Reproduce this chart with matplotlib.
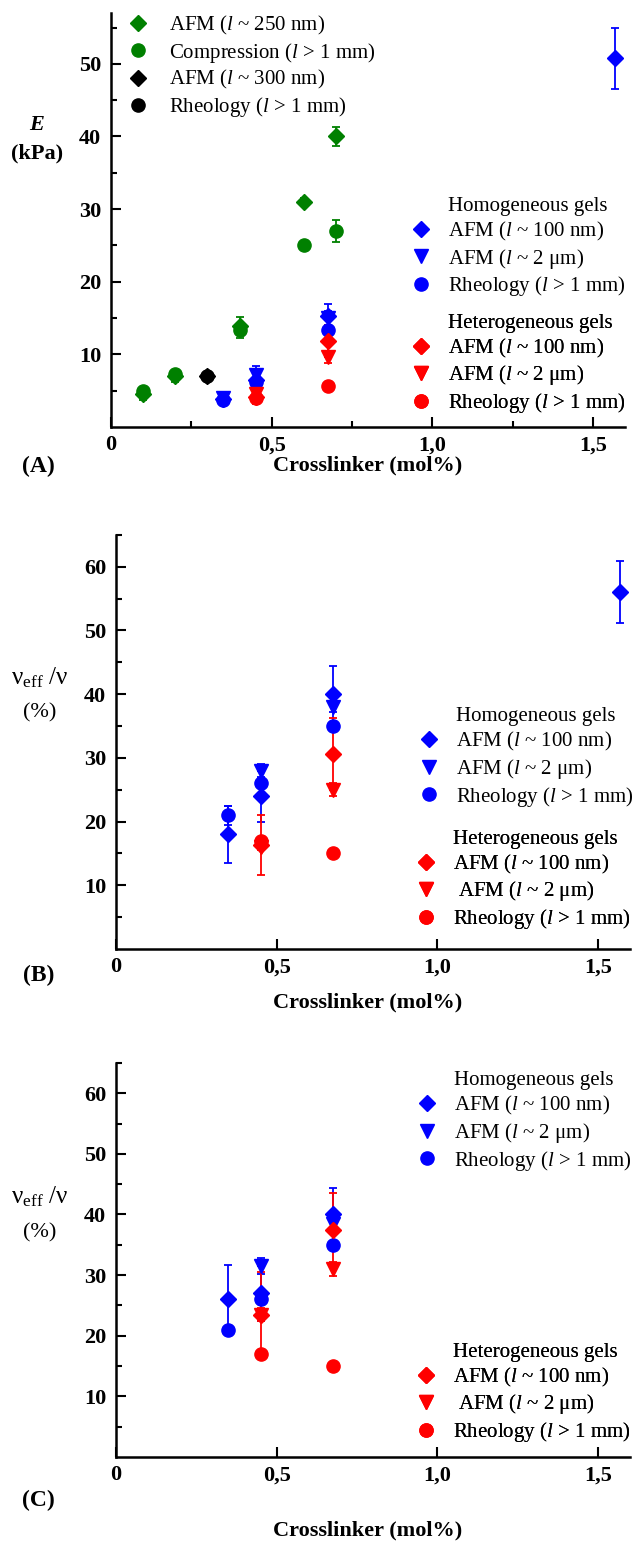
import matplotlib
matplotlib.use("Agg")
import matplotlib.pyplot as plt
from matplotlib.lines import Line2D

plt.rcParams['font.family'] = ['Liberation Serif', 'DejaVu Serif']
plt.rcParams['mathtext.fontset'] = 'custom'
plt.rcParams['mathtext.rm'] = 'Liberation Serif'
plt.rcParams['mathtext.it'] = 'Liberation Serif:italic'
plt.rcParams['mathtext.bf'] = 'Liberation Serif:bold'

BLUE = '#0000ff'
RED = '#ff0000'
GREEN = '#008000'

# ---------------- data (A): Young's modulus E (kPa) ----------------
a_afm250_x = [0.1, 0.2, 0.4, 0.6, 0.7]
a_afm250_y = [4.5, 7.0, 13.9, 31.0, 40.0]
a_afm250_err = [0.8, 0.8, 1.2, 0.6, 1.3]
a_comp_x = [0.1, 0.2, 0.4, 0.6, 0.7]
a_comp_y = [5.0, 7.3, 13.3, 25.0, 27.0]
a_comp_err = [0.5, 0.5, 1.0, 0.5, 1.5]
a_afm300_x = [0.3]
a_afm300_y = [7.0]
a_rheoblk_x = [0.3]
a_rheoblk_y = [7.0]

a_hom_afm100_x = [0.35, 0.45, 0.675, 1.57]
a_hom_afm100_y = [3.9, 6.5, 15.3, 50.8]
a_hom_afm100_err = [0.5, 1.0, 1.7, 4.2]
a_hom_afm2_x = [0.35, 0.45, 0.675]
a_hom_afm2_y = [4.0, 7.2, 15.0]
a_hom_afm2_err = [0.5, 1.2, 1.0]
a_hom_rheo_x = [0.35, 0.45, 0.675]
a_hom_rheo_y = [3.7, 6.2, 13.3]
a_het_afm100_x = [0.45, 0.675]
a_het_afm100_y = [4.2, 11.8]
a_het_afm100_err = [1.0, 2.2]
a_het_afm2_x = [0.45, 0.675]
a_het_afm2_y = [4.5, 9.6]
a_het_afm2_err = [0.8, 0.8]
a_het_rheo_x = [0.45, 0.675]
a_het_rheo_y = [4.0, 5.7]

# ---------------- data (B): nu_eff/nu (%) ----------------
b_hom_afm100_x = [0.35, 0.45, 0.675, 1.57]
b_hom_afm100_y = [18.0, 24.0, 40.0, 56.0]
b_hom_afm100_err = [4.5, 4.0, 4.4, 4.85]
b_hom_afm2_x = [0.45, 0.675]
b_hom_afm2_y = [28.0, 38.0]
b_hom_afm2_err = [1.0, 0.8]
b_hom_rheo_x = [0.35, 0.45, 0.675]
b_hom_rheo_y = [21.0, 26.0, 35.0]
b_hom_rheo_err = [1.5, 0, 0]
b_het_afm100_x = [0.45, 0.675]
b_het_afm100_y = [16.3, 30.6]
b_het_afm100_err = [4.7, 5.7]
b_het_afm2_x = [0.45, 0.675]
b_het_afm2_y = [16.0, 25.0]
b_het_afm2_err = [0.5, 1.0]
b_het_rheo_x = [0.45, 0.675]
b_het_rheo_y = [17.0, 15.0]

# ---------------- data (C): nu_eff/nu (%) ----------------
c_hom_afm100_x = [0.35, 0.45, 0.675]
c_hom_afm100_y = [26.0, 27.0, 40.0]
c_hom_afm100_err = [5.7, 4.5, 4.4]
c_hom_afm2_x = [0.45, 0.675]
c_hom_afm2_y = [31.5, 38.5]
c_hom_afm2_err = [1.3, 1.0]
c_hom_rheo_x = [0.35, 0.45, 0.675]
c_hom_rheo_y = [21.0, 26.0, 35.0]
c_het_afm100_x = [0.45, 0.675]
c_het_afm100_y = [23.5, 37.5]
c_het_afm100_err = [7.0, 6.0]
c_het_afm2_x = [0.45, 0.675]
c_het_afm2_y = [23.5, 31.0]
c_het_afm2_err = [1.0, 1.2]
c_het_rheo_x = [0.45, 0.675]
c_het_rheo_y = [17.0, 15.0]

x_ticks = [0, 0.5, 1.0, 1.5]
x_ticklabels = ['0', '0,5', '1,0', '1,5']

MS = {'D': 8, 'v': 10, 'o': 9.5}
FS = 16       # ticks, axis labels
FS_LEG = 15   # legend text


def pts(ax, x, y, err, marker, color):
    if err is None:
        err = [0] * len(y)
    ax.errorbar(x, y, yerr=err, fmt=marker, color=color, ms=MS[marker],
                mec=color, mfc=color, capsize=3, elinewidth=1.3, capthick=1.3)


def style(ax, ylim, yticks, xminor):
    ax.set_xlim(0, 1.6)
    ax.set_ylim(*ylim)
    for s in ['top', 'right']:
        ax.spines[s].set_visible(False)
    for s in ['left', 'bottom']:
        ax.spines[s].set_linewidth(1.8)
    ax.set_xticks(x_ticks)
    ax.set_xticklabels(x_ticklabels)
    ax.set_yticks(yticks)
    ax.set_yticks([t - 5 for t in yticks] + [yticks[-1] + 5], minor=True)
    if xminor:
        ax.set_xticks([0.25, 0.75, 1.25], minor=True)
    ax.tick_params(which='both', direction='in', width=1.5, labelsize=FS)
    ax.tick_params(axis='y', pad=7)
    ax.tick_params(axis='x', pad=6)
    ax.tick_params(which='major', length=7)
    ax.tick_params(which='minor', length=4)
    for lab in ax.get_xticklabels() + ax.get_yticklabels():
        lab.set_fontweight('bold')
    ax.set_xlabel('Crosslinker (mol%)', fontsize=FS, fontweight='bold')


def group_legend(ax, title, color, anchor, afm2_label):
    handles = [Line2D([], [], linestyle='none'),
               Line2D([], [], linestyle='none', marker='D', color=color, ms=MS['D']),
               Line2D([], [], linestyle='none', marker='v', color=color, ms=MS['v']),
               Line2D([], [], linestyle='none', marker='o', color=color, ms=MS['o'])]
    labels = [title, r'AFM ($l$ ~ 100 nm)', afm2_label, r'Rheology ($l$ > 1 mm)']
    leg = ax.legend(handles, labels, loc='upper left', bbox_to_anchor=anchor,
                    frameon=False, fontsize=FS_LEG, handlelength=1.0, handletextpad=0.8,
                    borderpad=0, borderaxespad=0, labelspacing=0.18)
    ax.add_artist(leg)


fig = plt.figure(figsize=(6.37, 15.49), dpi=100)
axA = fig.add_axes([0.1743, 0.7243, 0.807, 0.2673])
axB = fig.add_axes([0.1821, 0.3874, 0.807, 0.2673])
axC = fig.add_axes([0.1821, 0.0594, 0.807, 0.2544])

# ---- panel A ----
pts(axA, a_comp_x, a_comp_y, a_comp_err, 'o', GREEN)
pts(axA, a_afm250_x, a_afm250_y, a_afm250_err, 'D', GREEN)
pts(axA, a_rheoblk_x, a_rheoblk_y, None, 'o', 'black')
pts(axA, a_afm300_x, a_afm300_y, None, 'D', 'black')
pts(axA, a_hom_rheo_x, a_hom_rheo_y, None, 'o', BLUE)
pts(axA, a_hom_afm2_x, a_hom_afm2_y, a_hom_afm2_err, 'v', BLUE)
pts(axA, a_hom_afm100_x, a_hom_afm100_y, a_hom_afm100_err, 'D', BLUE)
pts(axA, a_het_rheo_x, a_het_rheo_y, None, 'o', RED)
pts(axA, a_het_afm2_x, a_het_afm2_y, a_het_afm2_err, 'v', RED)
pts(axA, a_het_afm100_x, a_het_afm100_y, a_het_afm100_err, 'D', RED)
style(axA, (0, 57), [10, 20, 30, 40, 50], True)
axA.xaxis.set_label_coords(0.5, -0.068)

top_handles = [Line2D([], [], linestyle='none', marker='D', color=GREEN, ms=MS['D']),
               Line2D([], [], linestyle='none', marker='o', color=GREEN, ms=MS['o']),
               Line2D([], [], linestyle='none', marker='D', color='black', ms=MS['D']),
               Line2D([], [], linestyle='none', marker='o', color='black', ms=MS['o'])]
top_labels = [r'AFM ($l$ ~ 250 nm)', r'Compression ($l$ > 1 mm)',
              r'AFM ($l$ ~ 300 nm)', r'Rheology ($l$ > 1 mm)']
leg = axA.legend(top_handles, top_labels, loc='upper left', bbox_to_anchor=(0.033, 0.998),
                 frameon=False, fontsize=FS_LEG, handlelength=1.0, handletextpad=0.95,
                 borderpad=0, borderaxespad=0, labelspacing=0.18)
axA.add_artist(leg)
group_legend(axA, 'Homogeneous gels', BLUE, (0.583, 0.557), r'AFM ($l$ ~ 2 μm)')
group_legend(axA, 'Heterogeneous gels', RED, (0.583, 0.275), r'AFM ($l$ ~ 2 μm)')

# ---- panel B ----
pts(axB, b_hom_rheo_x, b_hom_rheo_y, b_hom_rheo_err, 'o', BLUE)
pts(axB, b_hom_afm2_x, b_hom_afm2_y, b_hom_afm2_err, 'v', BLUE)
pts(axB, b_hom_afm100_x, b_hom_afm100_y, b_hom_afm100_err, 'D', BLUE)
pts(axB, b_het_rheo_x, b_het_rheo_y, None, 'o', RED)
pts(axB, b_het_afm2_x, b_het_afm2_y, b_het_afm2_err, 'v', RED)
pts(axB, b_het_afm100_x, b_het_afm100_y, b_het_afm100_err, 'D', RED)
style(axB, (0, 63.3), [10, 20, 30, 40, 50, 60], False)
axB.xaxis.set_label_coords(0.49, -0.106)
group_legend(axB, 'Homogeneous gels', BLUE, (0.588, 0.585), r'AFM ($l$ ~ 2 μm)')
group_legend(axB, 'Heterogeneous gels', RED, (0.583, 0.289), r' AFM ($l$ ~ 2 μm)')

# ---- panel C ----
pts(axC, c_hom_rheo_x, c_hom_rheo_y, None, 'o', BLUE)
pts(axC, c_hom_afm2_x, c_hom_afm2_y, c_hom_afm2_err, 'v', BLUE)
pts(axC, c_hom_afm100_x, c_hom_afm100_y, c_hom_afm100_err, 'D', BLUE)
pts(axC, c_het_rheo_x, c_het_rheo_y, None, 'o', RED)
pts(axC, c_het_afm2_x, c_het_afm2_y, c_het_afm2_err, 'v', RED)
pts(axC, c_het_afm100_x, c_het_afm100_y, c_het_afm100_err, 'D', RED)
style(axC, (0, 63.1), [10, 20, 30, 40, 50, 60], False)
axC.xaxis.set_label_coords(0.49, -0.16)
group_legend(axC, 'Homogeneous gels', BLUE, (0.585, 0.98), r'AFM ($l$ ~ 2 μm)')
group_legend(axC, 'Heterogeneous gels', RED, (0.583, 0.291), r' AFM ($l$ ~ 2 μm)')

# y labels and panel letters
fig.text(37 / 637, 1 - 125 / 1549, 'E', ha='center', va='center', fontsize=FS,
         fontweight='bold', fontstyle='italic')
fig.text(37 / 637, 1 - 153 / 1549, '(kPa)', ha='center', va='center', fontsize=FS,
         fontweight='bold')
for yc, yp in ((678, 713), (1197, 1233)):
    fig.text(40 / 637, 1 - yc / 1549, r'$\mathrm{\nu}_{\mathrm{eff}}$ /$\mathrm{\nu}$',
             ha='center', va='center', fontsize=FS + 2)
    fig.text(40 / 637, 1 - yp / 1549, '(%)', ha='center', va='center', fontsize=FS)
for lab, yc in (('(A)', 466), ('(B)', 975), ('(C)', 1500)):
    fig.text(0.06, 1 - yc / 1549, lab, ha='center', va='center', fontsize=17, fontweight='bold')

fig.savefig('out.png', dpi=100)
